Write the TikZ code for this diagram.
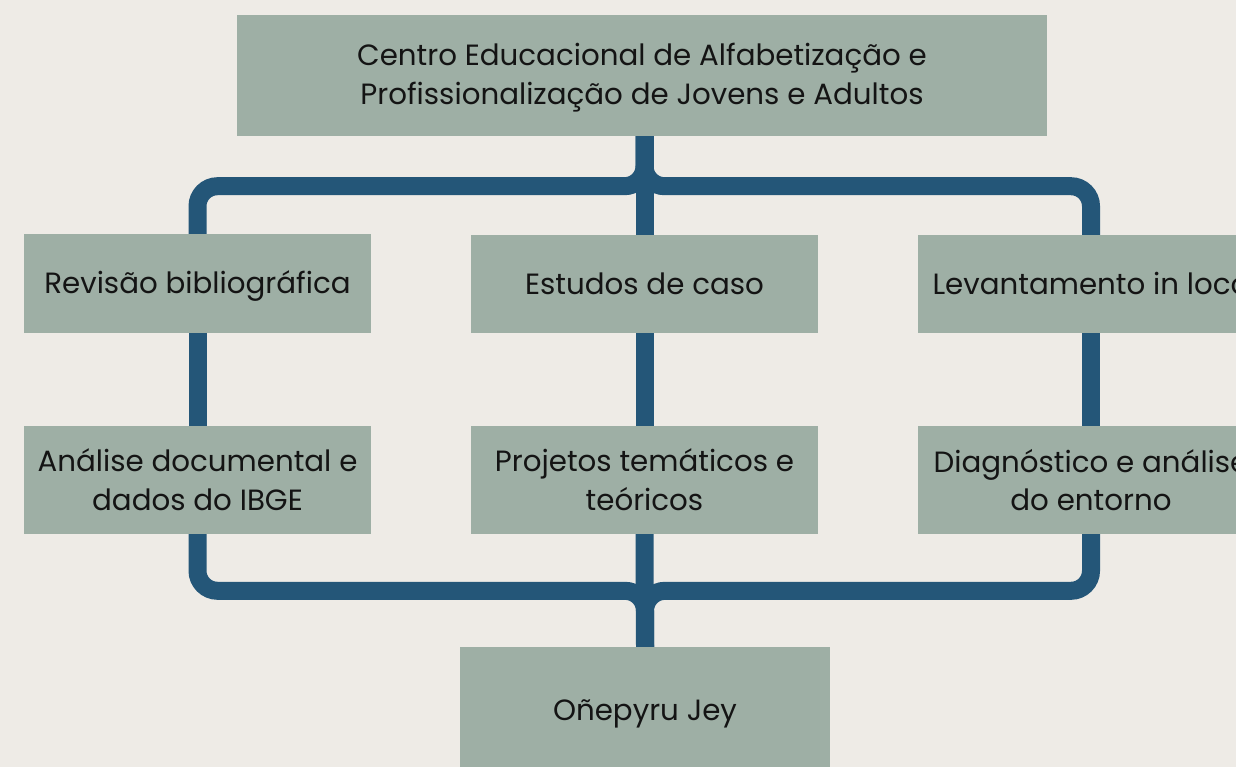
\documentclass[tikz,border=0pt]{standalone}
\usepackage{fontspec}
\setmainfont{Poppins}
\definecolor{bgc}{RGB}{238,235,230}
\definecolor{boxc}{RGB}{158,175,165}
\definecolor{linec}{RGB}{36,86,120}
\definecolor{txtc}{RGB}{20,20,20}
\begin{document}
\begin{tikzpicture}[x=1pt,y=-1pt,
  box/.style={fill=boxc, draw=none, inner sep=0pt, align=center, text=txtc,
    font=\fontsize{29.3}{38.8}\selectfont},
  oneline/.style={text height=21pt, text depth=0pt},
  txt/.style={inner sep=0pt, align=center, text=txtc, font=\fontsize{29.3}{38.8}\selectfont},
  conn/.style={draw=linec, line width=18pt, rounded corners=20pt}]
\useasboundingbox (0,0) rectangle (1236,767);
\clip (0,0) rectangle (1236,767);
\fill[bgc] (0,0) rectangle (1236,767);
\node[box, minimum width=810pt, minimum height=121pt] (top) at (642,75.5) {};
\node[txt] (toptxt) at (642,78) 
  {Centro Educacional de Alfabetização e\\Profissionalização de Jovens e Adultos};
\node[box, oneline, minimum width=347pt, minimum height=99pt] (lb1) at (197.5,283.5) {Revisão bibliográfica};
\node[box, oneline, minimum width=347pt, minimum height=98pt] (mb1) at (644.5,284) {Estudos de caso};
\node[box, oneline, minimum width=347pt, minimum height=98pt] (rb1) at (1091,284) {Levantamento in loco};
\node[box, minimum width=347pt, minimum height=108pt] (lb2) at (197.5,480) {Análise documental e\\dados do IBGE};
\node[box, minimum width=347pt, minimum height=108pt] (mb2) at (644.5,480) {Projetos temáticos e\\teóricos};
\node[box, minimum width=347pt, minimum height=108pt] (rb2) at (1091,480) {Diagnóstico e análise\\do entorno};
\node[box, oneline, minimum width=370pt, minimum height=126pt] (bot) at (645,710) {Oñepyru Jey};
% top branches
\draw[conn] (top.south -| mb1.north) -- ++(0,50) -| (lb1.north);
\draw[conn] (top.south -| mb1.north) -- ++(0,50) -| (rb1.north);
\draw[conn] (top.south -| mb1.north) -- (mb1.north);
% middle
\draw[conn] (lb1.south) -- (lb2.north);
\draw[conn] (mb1.south) -- (mb2.north);
\draw[conn] (rb1.south) -- (rb2.north);
% bottom branches
\draw[conn] (bot.north) -- ++(0,-56) -| (lb2.south);
\draw[conn] (bot.north) -- ++(0,-56) -| (rb2.south);
\draw[conn] (mb2.south) -- (bot.north);
\end{tikzpicture}
\end{document}
